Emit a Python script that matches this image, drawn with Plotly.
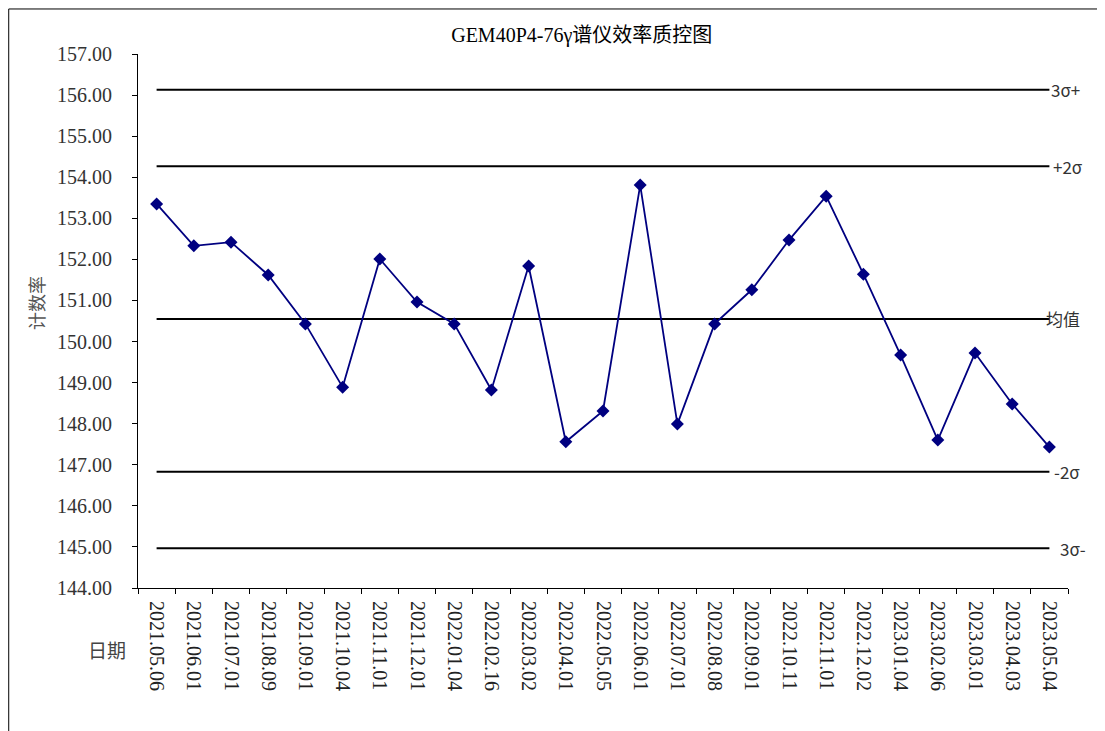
import plotly.graph_objects as go

# 质控图数据
dates = [
    "2021.05.06", "2021.06.01", "2021.07.01", "2021.08.09", "2021.09.01",
    "2021.10.04", "2021.11.01", "2021.12.01", "2022.01.04", "2022.02.16",
    "2022.03.02", "2022.04.01", "2022.05.05", "2022.06.01", "2022.07.01",
    "2022.08.08", "2022.09.01", "2022.10.11", "2022.11.01", "2022.12.02",
    "2023.01.04", "2023.02.06", "2023.03.01", "2023.04.03", "2023.05.04",
]
count_rate = [
    153.35, 152.33, 152.42, 151.62, 150.43,
    148.89, 152.01, 150.96, 150.43, 148.82,
    151.84, 147.56, 148.31, 153.81, 147.99,
    150.43, 151.26, 152.47, 153.54, 151.64,
    149.67, 147.60, 149.72, 148.48, 147.43,
]
limit_names = ["3σ+", "+2σ", "均值", "-2σ", "3σ-"]
limit_values = [156.13, 154.27, 150.55, 146.83, 144.97]
label_shift = [0, 2, -5, 3, 9]   # 标签相对线末端的偏移(px)

BLACK = "#000000"
NAVY = "#000080"
LABEL_COLOR = "#333333"
SERIF = "Liberation Serif, Noto Sans CJK SC, serif"
SANS = "Noto Sans CJK SC, sans-serif"

fig = go.Figure()

# 控制线
for name, val, dx in zip(limit_names, limit_values, label_shift):
    fig.add_trace(go.Scatter(
        x=dates, y=[val] * len(dates),
        mode="lines", line=dict(color=BLACK, width=2),
        hoverinfo="skip", showlegend=False,
    ))
    fig.add_annotation(
        x=dates[-1], y=val, text=name, showarrow=False,
        xanchor="left", yanchor="middle", xshift=dx,
        font=dict(family=SANS, size=17, color=LABEL_COLOR),
    )

# 测量值
fig.add_trace(go.Scatter(
    x=dates, y=count_rate,
    mode="lines+markers",
    line=dict(color=NAVY, width=1.8),
    marker=dict(symbol="diamond", size=10, color=NAVY),
    showlegend=False,
))

fig.update_layout(
    width=1097, height=723,
    margin=dict(l=130, r=37, t=46, b=143),
    paper_bgcolor="white",
    plot_bgcolor="white",
    title=dict(
        text="GEM40P4-76γ谱仪效率质控图",
        x=0.523, xref="container", xanchor="center",
        y=0.9627, yref="container", yanchor="middle",
        font=dict(family=SERIF, size=20, color=BLACK),
    ),
    xaxis=dict(
        type="category",
        range=[-0.5, len(dates) - 0.5],
        showline=True, linecolor=BLACK, linewidth=1,
        showgrid=False, zeroline=False,
        ticks="outside", ticklen=5, tickcolor=BLACK, tickson="boundaries",
        tickangle=90, ticklabelstandoff=8,
        tickfont=dict(family=SERIF, size=20, color="#222222"),
    ),
    yaxis=dict(
        range=[144, 157],
        dtick=1, tick0=144, tickformat=".2f",
        showline=True, linecolor=BLACK, linewidth=1,
        showgrid=False, zeroline=False,
        ticks="outside", ticklen=5, tickcolor=BLACK,
        ticklabelstandoff=16,
        tickfont=dict(family=SERIF, size=20, color="#333333"),
    ),
)

# 轴标题
fig.add_annotation(
    x=-0.1097, y=0.5337, xref="paper", yref="paper", text="计数率",
    showarrow=False, textangle=-90, xanchor="center", yanchor="middle",
    font=dict(family=SANS, size=18, color="#555555"),
)
fig.add_annotation(
    x=-0.0108, y=-0.116, xref="paper", yref="paper", text="日期",
    showarrow=False, xanchor="right", yanchor="middle",
    font=dict(family=SANS, size=19, color="#444444"),
)

# 外框
fig.add_shape(
    type="rect", xref="paper", yref="paper",
    x0=-0.139, x1=1.05, y0=-0.3, y1=1.0843,
    line=dict(color=BLACK, width=1), layer="below",
)

fig.write_html("out.html")
